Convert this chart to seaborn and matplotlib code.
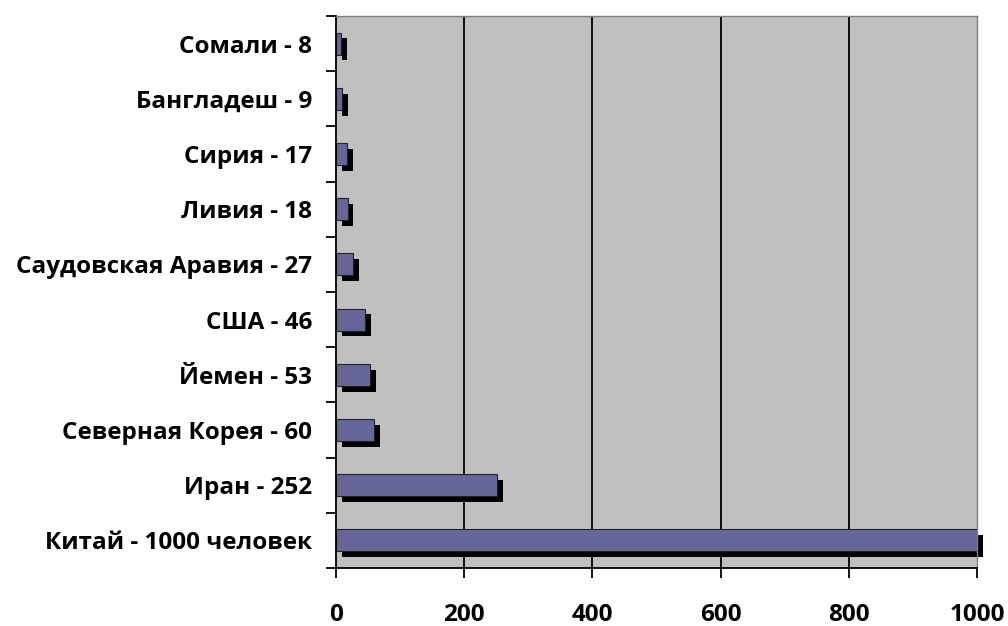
import matplotlib
matplotlib.use("Agg")
import matplotlib.pyplot as plt
import matplotlib.patheffects as pe
import seaborn as sns
import pandas as pd

countries = ["Сомали", "Бангладеш", "Сирия", "Ливия", "Саудовская Аравия",
             "США", "Йемен", "Северная Корея", "Иран", "Китай"]
values = [8, 9, 17, 18, 27, 46, 53, 60, 252, 1000]
labels = [f"{c} - {v}" for c, v in zip(countries, values)]
labels[-1] = "Китай - 1000 человек"
x_ticks = [0, 200, 400, 600, 800, 1000]

sns.set_theme(style="white")
plt.rcParams["font.family"] = ["Open Sans", "DejaVu Sans"]

df = pd.DataFrame({"label": labels, "value": values})

fig = plt.figure(figsize=(10.08, 6.26), dpi=100)
ax = fig.add_axes([0.3333, 0.0927, 0.6359, 0.8818])
ax.set_facecolor("#C0C0C0")

sns.barplot(data=df, x="value", y="label", orient="h", color="#666699",
            saturation=1, width=0.4, edgecolor="#222222", linewidth=0.8, ax=ax)

# drop shadow under each bar, like the old Excel style
for bar in ax.patches:
    bar.set_clip_on(False)
    bar.set_path_effects([pe.SimplePatchShadow(offset=(4.2, -4.2), shadow_rgbFace="black", alpha=1),
                          pe.Normal()])

ax.set_xlim(0, 1000)
ax.set_ylim(9.5, -0.5)
ax.set_xticks(x_ticks)
ax.set_xticklabels([str(t) for t in x_ticks], fontsize=17.5, fontweight="bold", color="black")
for t in x_ticks[1:-1]:
    ax.axvline(t, color="black", linewidth=1.3, zorder=0.5)

ax.set_yticks([i for i in range(10)])
ax.set_yticklabels(labels, fontsize=17.5, fontweight="bold", color="black")
ax.set_yticks([i + 0.5 for i in range(-1, 10)], minor=True)
ax.tick_params(axis="y", which="major", length=0, pad=17)
ax.tick_params(axis="y", which="minor", length=7, width=1.3, color="black", direction="out", left=True)
ax.tick_params(axis="x", which="major", length=7, width=1.3, color="black", direction="out", pad=18, bottom=True)

ax.set_xlabel("")
ax.set_ylabel("")
for side in ["left", "bottom"]:
    ax.spines[side].set_color("black")
    ax.spines[side].set_linewidth(1.3)
for side in ["top", "right"]:
    ax.spines[side].set_color("#808080")
    ax.spines[side].set_linewidth(1.0)

fig.savefig("out.png", dpi=100)
